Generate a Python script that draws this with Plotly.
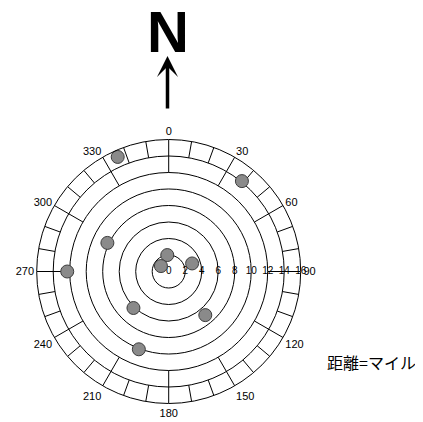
import plotly.graph_objects as go

# 方位（北=0、時計回り、度）と距離（マイル）
bearing = [336, 39, 295, 355, 305, 71, 270, 224, 140, 201]
distance = [15.2, 14.1, 8.2, 2.0, 1.15, 3.0, 12.3, 6.15, 6.9, 10.1]

angle_ticks = list(range(0, 360, 30))
dist_ticks = list(range(0, 17, 2))
R_MAX = 16

# the page body has an 8px margin, so the figure is made 8px smaller
OFF = 8
W, H = 423 - OFF, 422 - OFF
CX, CY, RAD = 168.7 - OFF, 271.5 - OFF, 132

LABEL_FONT = "Liberation Sans, Arial, sans-serif"


def px(x):
    return (x - OFF) / W


def py(y):
    return 1 - (y - OFF) / H


# outer scale band: short ticks every 10 deg, longer ones every 30 deg
tick_r, tick_t = [], []
for a in range(0, 360, 10):
    r0 = R_MAX - 4 if a % 30 == 0 else R_MAX - 2
    tick_r += [r0, R_MAX, None]
    tick_t += [a, a, None]

fig = go.Figure()
fig.add_trace(go.Scatterpolar(r=tick_r, theta=tick_t, mode="lines",
                              line=dict(color="black", width=1), hoverinfo="skip"))
fig.add_trace(go.Scatterpolar(r=dist_ticks, theta=[90] * len(dist_ticks), mode="text",
                              text=[str(d) for d in dist_ticks],
                              textfont=dict(size=10, color="black", family=LABEL_FONT),
                              hoverinfo="skip"))
fig.add_trace(go.Scatterpolar(r=distance, theta=bearing, mode="markers",
                              marker=dict(size=13, color="#8a8a8a",
                                          line=dict(color="#3c3c3c", width=1))))

fig.update_layout(
    width=W, height=H, margin=dict(l=0, r=0, t=0, b=0),
    paper_bgcolor="white", showlegend=False,
    polar=dict(
        domain=dict(x=[(CX - RAD) / W, (CX + RAD) / W],
                    y=[(H - CY - RAD) / H, (H - CY + RAD) / H]),
        bgcolor="white",
        angularaxis=dict(rotation=90, direction="clockwise", tickmode="array",
                         tickvals=angle_ticks, ticktext=[str(a) for a in angle_ticks],
                         showgrid=False, showline=True, linecolor="black", linewidth=1,
                         ticks="", tickfont=dict(size=11, color="black", family=LABEL_FONT)),
        radialaxis=dict(range=[0, R_MAX], tickvals=dist_ticks, showticklabels=False,
                        ticks="", showline=False, showgrid=True,
                        gridcolor="black", gridwidth=1, angle=0),
    ),
    annotations=[
        dict(text="<b>N</b>", x=px(168), y=py(31.5), xref="paper", yref="paper",
             xanchor="center", yanchor="middle", showarrow=False,
             font=dict(size=58, color="black",
                       family="Liberation Sans Narrow, Liberation Sans, Arial, sans-serif")),
        dict(text="", x=px(167.5), y=py(56), xref="paper", yref="paper",
             showarrow=True, ax=0, ay=54, arrowhead=3, arrowsize=1.0,
             arrowwidth=3.5, arrowcolor="black"),
        dict(text="距離=マイル", x=px(371.5), y=py(362), xref="paper", yref="paper",
             xanchor="center", yanchor="middle", showarrow=False,
             font=dict(size=16, color="black", family="Noto Sans CJK JP, sans-serif")),
    ],
)

fig.write_html("out.html")
